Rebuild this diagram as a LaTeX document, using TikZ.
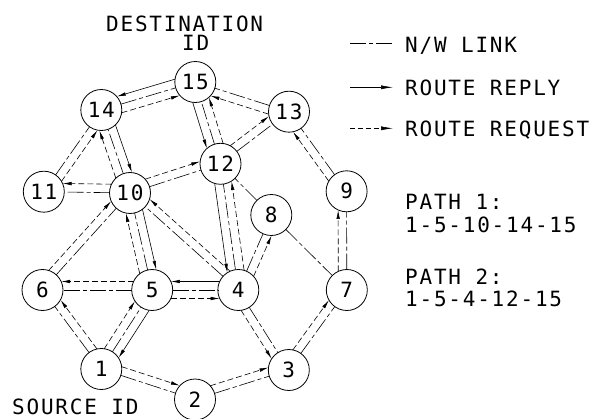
\documentclass[tikz,border=0pt]{standalone}
\usepackage{fontspec}
\newfontfamily\cad{DejaVu Sans Mono}[LetterSpace=8.5]
\usetikzlibrary{calc,arrows.meta}
\newcommand\lnk[4]{%
  \pgfmathsetlengthmacro\dd{sqrt(20.5*20.5-(#4)*(#4))}%
  \draw[#1] ($(#2)!\dd!(#3)!#4pt!90:(#3)$) -- ($(#3)!\dd!(#2)!#4pt!-90:(#2)$);}
\begin{document}
\begin{tikzpicture}[x=1pt,y=-1pt,
  nd/.style={circle,draw,line width=0.8pt,minimum size=41pt,inner sep=0pt,font=\cad\fontsize{21}{21}\selectfont},
  txt/.style={inner sep=0pt,anchor=base west,font=\cad\fontsize{21}{21}\selectfont},
  nw/.style={line width=0.6pt,dash pattern=on 16pt off 3pt on 4pt off 3pt},
  rq/.style={line width=0.6pt,dash pattern=on 6pt off 3pt,-{Latex[length=9pt,width=3.5pt]}},
  rp/.style={line width=0.6pt,-{Latex[length=9pt,width=3.5pt]}},
  lgrq/.style={line width=0.6pt,dash pattern=on 5pt off 3pt,-{Latex[length=12pt,width=4pt]}},
  lgrp/.style={line width=0.6pt,-{Latex[length=12pt,width=4pt]}}]
\useasboundingbox (0,0) rectangle (609,419);
\fill[white] (0,0) rectangle (609,419);
% nodes
\node[nd] (n15) at (195.3,82) {15};
\node[nd] (n14) at (101.3,110) {14};
\node[nd] (n13) at (289,111.7) {13};
\node[nd] (n12) at (220.5,163.8) {12};
\node[nd] (n11) at (43.8,191.7) {11};
\node[nd] (n10) at (130,193) {10};
\node[nd] (n9) at (346.6,191.3) {9};
\node[nd] (n8) at (271.3,215) {8};
\node[nd] (n7) at (346.8,290) {7};
\node[nd] (n6) at (42.5,290) {6};
\node[nd] (n5) at (152.2,290) {5};
\node[nd] (n4) at (238.3,290) {4};
\node[nd] (n3) at (288.8,370) {3};
\node[nd] (n2) at (195,399.5) {2};
\node[nd] (n1) at (101.3,369) {1};
% network links
\foreach \a/\b in {1/2,2/3,4/3,3/7,7/9,9/13,13/15,12/13,10/12,10/11,11/14,1/6,5/6,4/10,4/8,6/10,1/5,5/10,10/14,14/15,5/4,4/12,12/15,8/12,8/7}
  {\lnk{nw}{n\a}{n\b}{0}}
% route requests
\foreach \a/\b/\o in {1/2/8.5,2/3/8.5,4/3/-8.5,3/7/8.5,7/9/8.5,9/13/8.5,13/15/8.5,12/13/8.5,10/12/8.5,10/11/-8.5,11/14/-8.5,1/6/-8.5,5/6/-8.5,4/10/-8.5,4/8/-8.5,6/10/8.5,1/5/8.5,5/10/8.5,10/14/8.5,14/15/-8.5,5/4/-8.5,4/12/-8.5,12/15/-8.5}
  {\lnk{rq}{n\a}{n\b}{\o}}
% route replies
\foreach \a/\b/\o in {5/1/8.5,10/5/8.5,14/10/8.5,15/14/-8.5,4/5/-8.5,12/4/-8.5,15/12/-8.5}
  {\lnk{rp}{n\a}{n\b}{\o}}
% labels
\node[txt] (dest) at (106,31.7) {DESTINATION};
\node[txt] (destid) at (182,51) {ID};
\node[txt] (src) at (12,414.5) {SOURCE ID};
% legend
\coordinate (la1) at (350,43.3); \coordinate (lb1) at (393,43.3);
\coordinate (la2) at (350,87.3); \coordinate (lb2) at (393,87.3);
\coordinate (la3) at (350,128.3); \coordinate (lb3) at (393,128.3);
\draw[nw] (la1) -- (lb1);
\draw[lgrp] (la2) -- (lb2);
\draw[lgrq] (la3) -- (lb3);
\node[txt] (t1) at (405,52.3) {N/W LINK};
\node[txt] (t2) at (405,95.7) {ROUTE REPLY};
\node[txt] (t3) at (405,136.7) {ROUTE REQUEST};
\node[txt] (p1) at (405,210) {PATH 1:};
\node[txt] (p1v) at (405,232.7) {1-5-10-14-15};
\node[txt] (p2) at (405,284) {PATH 2:};
\node[txt] (p2v) at (405,306) {1-5-4-12-15};
\end{tikzpicture}
\end{document}
